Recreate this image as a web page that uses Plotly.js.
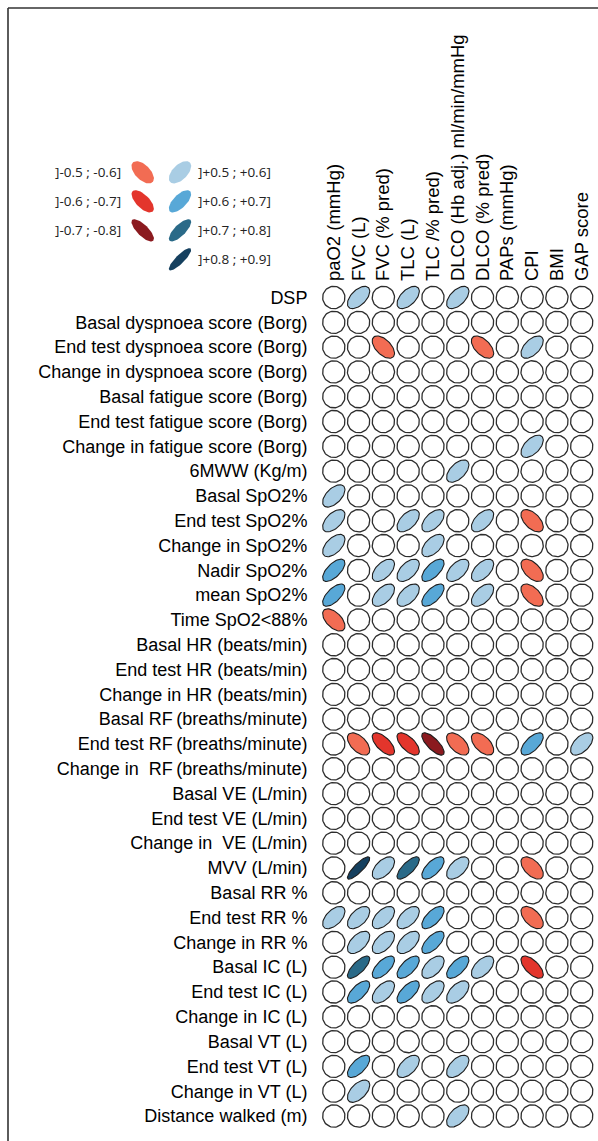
<!DOCTYPE html>
<html>
<head>
<meta charset="utf-8">
<script src="https://cdn.plot.ly/plotly-3.0.1.min.js"></script>
<style>
  html, body { margin: 0; padding: 0; background: #fff; }
  #chart { width: 598px; height: 1141px; }
</style>
</head>
<body>
<div id="chart"></div>
<script>
// ---------------- DATA ----------------
const columns = ["paO2 (mmHg)", "FVC (L)", "FVC (% pred)", "TLC (L)", "TLC /% pred)",
  "DLCO (Hb adj.) ml/min/mmHg", "DLCO (% pred)", "PAPs (mmHg)", "CPI", "BMI", "GAP score"];

const rows = ["DSP", "Basal dyspnoea score (Borg)", "End test dyspnoea score (Borg)",
  "Change in dyspnoea score (Borg)", "Basal fatigue score (Borg)", "End test fatigue score (Borg)",
  "Change in fatigue score (Borg)", "6MWW (Kg/m)", "Basal SpO2%", "End test SpO2%",
  "Change in SpO2%", "Nadir SpO2%", "mean SpO2%", "Time SpO2&lt;88%",
  "Basal HR (beats/min)", "End test HR (beats/min)", "Change in HR (beats/min)",
  "Basal RF\u2009(breaths/minute)", "End test RF\u2009(breaths/minute)", "Change in\u00a0 RF\u2009(breaths/minute)",
  "Basal VE (L/min)", "End test VE (L/min)", "Change in\u00a0 VE (L/min)", "MVV (L/min)",
  "Basal RR %", "End test RR %", "Change in RR %", "Basal IC (L)", "End test IC (L)",
  "Change in IC (L)", "Basal VT (L)", "End test VT (L)", "Change in VT (L)", "Distance walked (m)"];

// correlation (bin mid-values), 0 = not significant (drawn as empty circle)
const corr = [
  [0, 0.55, 0, 0.55, 0, 0.55, 0, 0, 0, 0, 0],
  [0, 0, 0, 0, 0, 0, 0, 0, 0, 0, 0],
  [0, 0, -0.55, 0, 0, 0, -0.55, 0, 0.55, 0, 0],
  [0, 0, 0, 0, 0, 0, 0, 0, 0, 0, 0],
  [0, 0, 0, 0, 0, 0, 0, 0, 0, 0, 0],
  [0, 0, 0, 0, 0, 0, 0, 0, 0, 0, 0],
  [0, 0, 0, 0, 0, 0, 0, 0, 0.55, 0, 0],
  [0, 0, 0, 0, 0, 0.55, 0, 0, 0, 0, 0],
  [0.55, 0, 0, 0, 0, 0, 0, 0, 0, 0, 0],
  [0.55, 0, 0, 0.55, 0.55, 0, 0.55, 0, -0.55, 0, 0],
  [0.55, 0, 0, 0, 0.55, 0, 0, 0, 0, 0, 0],
  [0.65, 0, 0.55, 0.55, 0.65, 0.55, 0.55, 0, -0.55, 0, 0],
  [0.65, 0, 0.55, 0.55, 0.65, 0, 0.55, 0, -0.55, 0, 0],
  [-0.55, 0, 0, 0, 0, 0, 0, 0, 0, 0, 0],
  [0, 0, 0, 0, 0, 0, 0, 0, 0, 0, 0],
  [0, 0, 0, 0, 0, 0, 0, 0, 0, 0, 0],
  [0, 0, 0, 0, 0, 0, 0, 0, 0, 0, 0],
  [0, 0, 0, 0, 0, 0, 0, 0, 0, 0, 0],
  [0, -0.55, -0.65, -0.65, -0.75, -0.55, -0.55, 0, 0.65, 0, 0.55],
  [0, 0, 0, 0, 0, 0, 0, 0, 0, 0, 0],
  [0, 0, 0, 0, 0, 0, 0, 0, 0, 0, 0],
  [0, 0, 0, 0, 0, 0, 0, 0, 0, 0, 0],
  [0, 0, 0, 0, 0, 0, 0, 0, 0, 0, 0],
  [0, 0.85, 0.55, 0.75, 0.65, 0.55, 0, 0, -0.55, 0, 0],
  [0, 0, 0, 0, 0, 0, 0, 0, 0, 0, 0],
  [0.55, 0.55, 0.55, 0.55, 0.65, 0, 0, 0, -0.55, 0, 0],
  [0, 0.55, 0.55, 0.55, 0.65, 0, 0, 0, 0, 0, 0],
  [0, 0.75, 0.65, 0.65, 0.55, 0.65, 0.55, 0, -0.65, 0, 0],
  [0, 0.65, 0.55, 0.65, 0.55, 0.55, 0, 0, 0, 0, 0],
  [0, 0, 0, 0, 0, 0, 0, 0, 0, 0, 0],
  [0, 0, 0, 0, 0, 0, 0, 0, 0, 0, 0],
  [0, 0.65, 0, 0.55, 0, 0.55, 0, 0, 0, 0, 0],
  [0, 0.55, 0, 0, 0, 0, 0, 0, 0, 0, 0],
  [0, 0, 0, 0, 0, 0.55, 0, 0, 0, 0, 0]
];

// legend classes
const negLabels = ["]-0.5 ; -0.6]", "]-0.6 ; -0.7]", "]-0.7 ; -0.8]"];
const negValues = [-0.55, -0.65, -0.75];
const negColors = ["#f26c53", "#e3352c", "#8b1a1f"];
const posLabels = ["]+0.5 ; +0.6]", "]+0.6 ; +0.7]", "]+0.7 ; +0.8]", "]+0.8 ; +0.9]"];
const posValues = [0.55, 0.65, 0.75, 0.85];
const posColors = ["#a9cde4", "#58a8d7", "#2a6a88", "#15405f"];

// ---------------- GEOMETRY (pixels) ----------------
const W = 598, H = 1141;
const plotL = 321.4, plotR = 594.1, plotT = 285.1, plotB = 1128.4;
const legL = 124.05, legR = 198.65, legT = 157.8, legB = 273.8;
const cellPx = (plotR - plotL) / columns.length;
const radPx = 11.16;

function ellipse(cx, cy, r, sx, sy, xs, ys) {
  const d = Math.acos(Math.max(-1, Math.min(1, r)));
  const N = 60;
  for (let i = 0; i <= N; i++) {
    const t = 2 * Math.PI * i / N;
    xs.push(cx + sx * Math.cos(t + d / 2));
    ys.push(cy - sy * Math.cos(t - d / 2));
  }
  xs.push(null); ys.push(null);
}

function classOf(v) {
  const a = Math.abs(v);
  if (a < 0.5) return null;
  const k = Math.min(Math.floor((a - 0.5) * 10 + 1e-9), 3);
  return v < 0 ? {color: negColors[k]} : {color: posColors[k]};
}

const traces = [];
const groups = {};
const emptyX = [], emptyY = [];
const s = radPx / cellPx;
for (let r = 0; r < rows.length; r++) {
  for (let c = 0; c < columns.length; c++) {
    const v = corr[r][c];
    const cl = classOf(v);
    if (!cl) {
      ellipse(c, r, 0, s, s, emptyX, emptyY);
    } else {
      if (!groups[cl.color]) groups[cl.color] = {x: [], y: []};
      ellipse(c, r, v, s, s, groups[cl.color].x, groups[cl.color].y);
    }
  }
}
traces.push({
  type: "scatter", mode: "lines", x: emptyX, y: emptyY, fill: "toself",
  fillcolor: "#ffffff", line: {color: "#2e2e2e", width: 1.3}, hoverinfo: "skip",
  xaxis: "x", yaxis: "y"
});
Object.keys(groups).forEach(col => {
  traces.push({
    type: "scatter", mode: "lines", x: groups[col].x, y: groups[col].y, fill: "toself",
    fillcolor: col, line: {color: "#1e1e1e", width: 1.1}, hoverinfo: "skip",
    xaxis: "x", yaxis: "y"
  });
});

// legend ellipses
const lsx = radPx / ((legR - legL) / 2);
const lsy = radPx / ((legB - legT) / 4);
const legFont = {family: "Open Sans, Liberation Sans, sans-serif", size: 13.5, color: "#222"};
const annotations = [];
negValues.forEach((v, i) => {
  const xs = [], ys = [];
  ellipse(0, i, v, lsx, lsy, xs, ys);
  traces.push({type: "scatter", mode: "lines", x: xs, y: ys, fill: "toself",
    fillcolor: negColors[i], line: {width: 0, color: negColors[i]}, hoverinfo: "skip",
    xaxis: "x2", yaxis: "y2"});
  annotations.push({xref: "x2", yref: "y2", x: 0, y: i, text: negLabels[i], showarrow: false,
    xanchor: "right", yanchor: "middle", xshift: -20, font: legFont});
});
posValues.forEach((v, i) => {
  const xs = [], ys = [];
  ellipse(1, i, v, lsx, lsy, xs, ys);
  traces.push({type: "scatter", mode: "lines", x: xs, y: ys, fill: "toself",
    fillcolor: posColors[i], line: {width: 0, color: posColors[i]}, hoverinfo: "skip",
    xaxis: "x2", yaxis: "y2"});
  annotations.push({xref: "x2", yref: "y2", x: 1, y: i, text: posLabels[i], showarrow: false,
    xanchor: "left", yanchor: "middle", xshift: 16, font: legFont});
});

const rowFont = {family: "Liberation Sans, Arial, sans-serif", size: 18, color: "#000"};
const colFont = {family: "Liberation Sans, Arial, sans-serif", size: 18.5, color: "#000"};

const layout = {
  width: W, height: H, autosize: false,
  margin: {l: 0, r: 0, t: 0, b: 0, pad: 0},
  paper_bgcolor: "#fff", plot_bgcolor: "rgba(0,0,0,0)",
  showlegend: false, hovermode: false,
  xaxis: {
    domain: [plotL / W, plotR / W], range: [-0.5, columns.length - 0.5],
    tickmode: "array", tickvals: columns.map((_, i) => i), ticktext: columns,
    side: "top", tickangle: -90, ticks: "", showgrid: false, zeroline: false, showline: false,
    tickfont: colFont, ticklabelstandoff: 3, fixedrange: true
  },
  yaxis: {
    domain: [1 - plotB / H, 1 - plotT / H], range: [rows.length - 0.5, -0.5],
    tickmode: "array", tickvals: rows.map((_, i) => i), ticktext: rows,
    ticks: "", showgrid: false, zeroline: false, showline: false,
    tickfont: rowFont, ticklabelstandoff: 13, fixedrange: true
  },
  xaxis2: {
    domain: [legL / W, legR / W], range: [-0.5, 1.5], anchor: "y2",
    visible: false, fixedrange: true
  },
  yaxis2: {
    domain: [1 - legB / H, 1 - legT / H], range: [3.5, -0.5], anchor: "x2",
    visible: false, fixedrange: true
  },
  annotations: annotations,
  shapes: [
    {type: "line", xref: "paper", yref: "paper", x0: 8 / W, x1: 1, y0: 1 - 8 / H, y1: 1 - 8 / H,
      line: {color: "#333", width: 1.6}},
    {type: "line", xref: "paper", yref: "paper", x0: 8 / W, x1: 8 / W, y0: 1 - 8 / H, y1: 0,
      line: {color: "#333", width: 1.6}}
  ]
};

Plotly.newPlot("chart", traces, layout, {staticPlot: true, displayModeBar: false});
</script>
</body>
</html>
